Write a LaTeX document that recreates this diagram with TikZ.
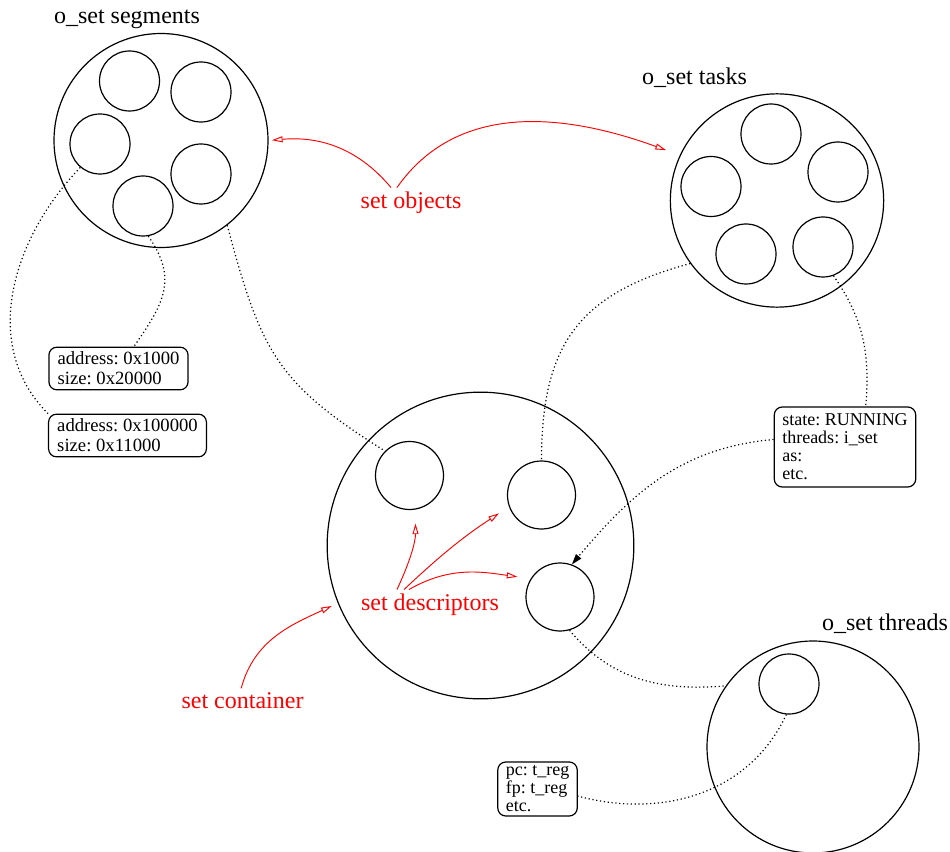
\documentclass[tikz,border=0pt]{standalone}
\usepackage{fontspec}
\setmainfont{Liberation Serif}
\usetikzlibrary{arrows.meta}

\begin{document}
\frenchspacing
\begin{tikzpicture}[x=0.75pt, y=-0.75pt, line width=0.9pt,
    set/.style = {draw, circle, inner sep=0pt, minimum size=#1},
    title/.style = {inner sep=0pt, font=\fontsize{18}{20}\selectfont},
    note/.style = {red, inner sep=3pt, font=\fontsize{18}{20}\selectfont},
    info/.style = {draw, rounded corners=6pt, align=left, inner xsep=6pt, inner ysep=2pt,
                   font=\fontsize{13.5}{13.5}\selectfont},
    addr/.style = {info, inner xsep=6.5pt, font=\fontsize{14}{15}\selectfont},
    link/.style = {dotted},
    hint/.style = {red, line width=0.7pt, -{Triangle[open, length=8pt, width=4.5pt]}}]
    \useasboundingbox (0,0) rectangle (950,852);

    % o_set segments
    \node (segT) [title] at (127,19) {o\_set segments};
    \node (seg) [set=160.5pt] at (161,140.5) {};
    \node (s1) [set=45pt] at (129.5,81) {};
    \node (s2) [set=45pt] at (201,92) {};
    \node (s3) [set=45pt] at (100,144) {};
    \node (s4) [set=45pt] at (201,174) {};
    \node (s5) [set=45pt] at (143,206) {};

    % o_set tasks
    \node (tasksT) [title] at (694.5,78) {o\_set tasks};
    \node (tasks) [set=160pt] at (777,200.5) {};
    \node (t1) [set=45pt] at (771,134) {};
    \node (t2) [set=45pt] at (711,186.5) {};
    \node (t3) [set=45pt] at (838,172) {};
    \node (t4) [set=45pt] at (746,254) {};
    \node (t5) [set=45pt] at (823,247) {};

    % set container with descriptors
    \node (cont) [set=230pt] at (480.5,545.5) {};
    \node (d1) [set=51pt] at (409.5,475.5) {};
    \node (d2) [set=51pt] at (541.5,495) {};
    \node (d3) [set=51pt] at (560,597) {};

    % o_set threads
    \node (thrT) [title] at (885,624) {o\_set threads};
    \node (thr) [set=159pt] at (813,747) {};
    \node (th1) [set=45pt] at (789,684) {};

    % object contents
    \node (box1) [addr, minimum height=32pt] at (118.5,368.5)
        {address: 0x1000\\size: 0x20000};
    \node (box2) [addr, minimum height=32pt] at (127.5,435.5)
        {address: 0x100000\\size: 0x11000};
    \node (box3) [info, minimum height=60pt] at (845,447)
        {state: RUNNING\\threads: i\_set\\as:\\etc.};
    \node (box4) [info, minimum height=40.5pt] at (537.5,789)
        {pc: t\_reg\\fp: t\_reg\\etc.};

    % red labels
    \node (objL) [note] at (411,203) {set objects};
    \node (descL) [note] at (430,605) {set descriptors};
    \node (contL) [note] at (242.5,701) {set container};

    \path [link]
        (s5.-80) edge [out=-55, in=55, looseness=1.2] (box1.55)
        (s3.230) edge [out=226, in=135] (box2.north west)
        (seg.-52) edge [out=-75, in=148, looseness=1.2] (d1.135)
        (tasks.216) edge [out=195, in=90, looseness=1.2] (d2.north)
        (t5.-70) edge [out=-55, in=85] (box3.63)
        (d3.-74) edge [out=-50, in=185] (thr.145)
        (th1.-95) edge [out=-115, in=-15] (box4.-10)
        (box3.174) edge [out=185, in=50, -{Triangle[length=8pt, width=5pt]}] (d3.70);

    \path [hint]
        ([xshift=-15pt]objL.north) edge [out=130, in=5, shorten >=2.5pt] (seg.east)
        ([xshift=-10.5pt]objL.north) edge [out=55, in=160, shorten >=11pt] (tasks.155)
        ([xshift=-24.75pt]descL.north) edge [out=65, in=-90, shorten >=10.5pt] (d1.-80)
        ([xshift=-19.5pt]descL.north) edge [bend left=5, shorten >=9pt] (d2.200)
        ([xshift=-15.75pt]descL.north) edge [out=30, in=172, shorten >=10pt] (d3.148)
        ([xshift=-1pt]contL.north) edge [out=75, in=205, shorten >=5pt] (cont.202);
\end{tikzpicture}
\end{document}
